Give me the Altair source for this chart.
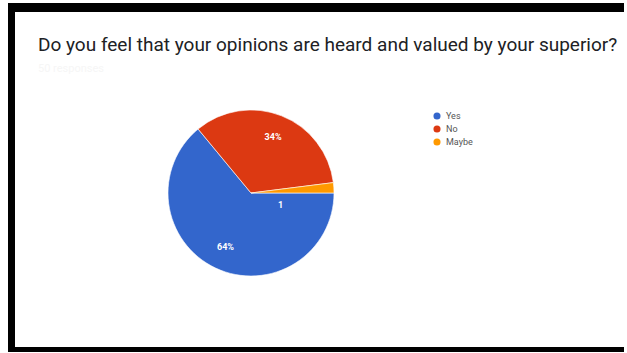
import altair as alt
import pandas as pd

title_text = "Do you feel that your opinions are heard and valued by your superior?"
subtitle_text = "50 responses"
answers = ["Yes", "No", "Maybe"]
counts = [32, 17, 1]
labels = ["64%", "34%", "1"]
colors = ["#3366cc", "#dc3912", "#ff9900"]

df = pd.DataFrame({"answer": answers, "count": counts, "label": labels,
                   "order": list(range(len(answers)))})

color_scale = alt.Scale(domain=answers, range=colors)
theta_scale = alt.Scale(range=[1.5708, 1.5708 + 6.28319])
leg_y = alt.Y("order:Q", scale=alt.Scale(domain=[0, 2], range=[116, 142]), axis=None)

base = alt.Chart(df)

pie = base.mark_arc(outerRadius=83, stroke="white", strokeWidth=0.6).encode(
    theta=alt.Theta("count:Q", stack=True, scale=theta_scale),
    color=alt.Color("answer:N", scale=color_scale, legend=None),
    order=alt.Order("order:Q"),
    x=alt.value(251), y=alt.value(193),
)

lab = base.transform_filter(alt.datum.answer != "Maybe").mark_text(
    radius=60, font="Roboto", fontSize=9, fontWeight="bold", color="white"
).encode(
    theta=alt.Theta("count:Q", stack=True, scale=theta_scale),
    order=alt.Order("order:Q"),
    text="label:N",
    x=alt.value(251), y=alt.value(193),
)

lab_small = base.mark_text(
    radius=32, thetaOffset=0.45, font="Roboto", fontSize=9, fontWeight="bold", color="white"
).encode(
    theta=alt.Theta("count:Q", stack=True, scale=theta_scale),
    order=alt.Order("order:Q"),
    text=alt.condition(alt.datum.answer == "Maybe", "label:N", alt.value("")),
    x=alt.value(251), y=alt.value(193),
)

leg_dots = base.mark_point(filled=True, size=50, opacity=1).encode(
    x=alt.value(437),
    y=leg_y,
    color=alt.Color("answer:N", scale=color_scale, legend=None),
)
leg_text = base.mark_text(align="left", baseline="middle", font="Roboto",
                          fontSize=9, color="#555555").encode(
    x=alt.value(446),
    y=leg_y,
    text="answer:N",
)

tdf = pd.DataFrame({"t": [title_text], "s": [subtitle_text]})
title = alt.Chart(tdf).mark_text(align="left", baseline="middle", font="Roboto",
                                 fontSize=19, color="#202124").encode(
    x=alt.value(38), y=alt.value(45), text="t:N")
subtitle = alt.Chart(tdf).mark_text(align="left", baseline="middle", font="Roboto",
                                    fontSize=11, color="#f6f6f6").encode(
    x=alt.value(38), y=alt.value(69), text="s:N")

border_top = alt.Chart(tdf).mark_rect(color="black").encode(
    x=alt.value(8), x2=alt.value(624), y=alt.value(3), y2=alt.value(12))
border_left = alt.Chart(tdf).mark_rect(color="black").encode(
    x=alt.value(8), x2=alt.value(15), y=alt.value(3), y2=alt.value(352))
border_bottom = alt.Chart(tdf).mark_rect(color="black").encode(
    x=alt.value(8), x2=alt.value(624), y=alt.value(347), y2=alt.value(352))

chart = alt.layer(pie, lab, lab_small, leg_dots, leg_text, title, subtitle,
                  border_top, border_left, border_bottom).properties(
    width=624, height=352, padding=0, background="white",
    autosize=alt.AutoSizeParams(type="none")
).configure_view(stroke=None)

chart.save("out.html", embed_options={"renderer": "svg", "actions": False})
